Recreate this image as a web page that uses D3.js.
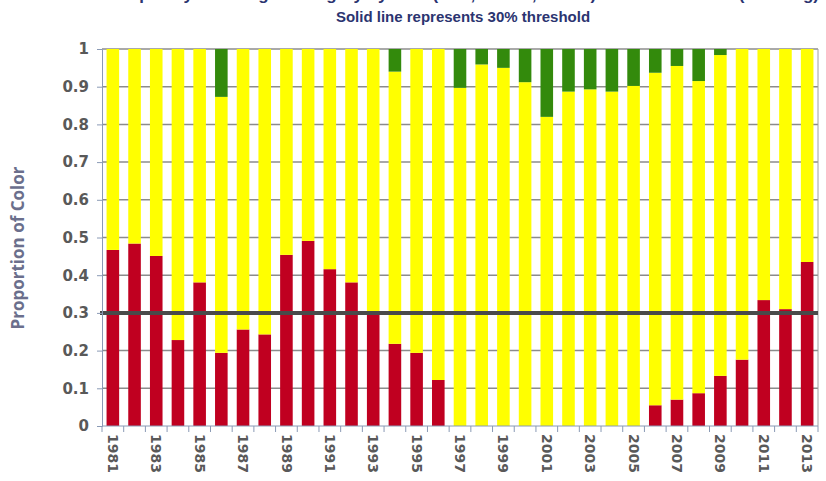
<!DOCTYPE html>
<html>
<head>
<meta charset="utf-8">
<script src="https://cdn.jsdelivr.net/npm/d3@7"></script>
<style>
  body { margin: 0; background: #fff; }
  svg { display: block; }
</style>
</head>
<body>
<svg id="chart" width="826" height="481"></svg>
<script>
// values
const years = [1981,1982,1983,1984,1985,1986,1987,1988,1989,1990,1991,1992,1993,1994,1995,1996,1997,
               1998,1999,2000,2001,2002,2003,2004,2005,2006,2007,2008,2009,2010,2011,2012,2013];
const red    = [0.467,0.484,0.451,0.228,0.381,0.194,0.256,0.243,0.454,0.491,0.416,0.381,0.303,0.218,0.194,0.122,0,
                0,0,0,0,0,0,0,0,0.055,0.070,0.087,0.133,0.176,0.334,0.310,0.435];
const yellow = [0.533,0.516,0.549,0.772,0.619,0.679,0.744,0.757,0.546,0.509,0.584,0.619,0.697,0.722,0.806,0.878,0.897,
                0.959,0.950,0.912,0.820,0.887,0.893,0.887,0.902,0.882,0.885,0.828,0.851,0.824,0.666,0.690,0.565];
const green  = [0,0,0,0,0,0.127,0,0,0,0,0,0,0,0.060,0,0,0.103,
                0.041,0.050,0.088,0.180,0.113,0.107,0.113,0.098,0.063,0.045,0.085,0.016,0,0,0,0];
const yTicks = [0,0.1,0.2,0.3,0.4,0.5,0.6,0.7,0.8,0.9,1];
const threshold = 0.3;

const colors = { red: "#c00020", yellow: "#ffff00", green: "#338a0c" };

const svg = d3.select("#chart");
const margin = { top: 49, right: 8, bottom: 55, left: 102 };
const width = 826 - margin.left - margin.right;
const height = 481 - margin.top - margin.bottom;

// titles (first line is cropped off the top in the original, only descenders show)
svg.append("text")
  .attr("x", 463).attr("y", 0)
  .attr("text-anchor", "middle")
  .attr("font-family", "Liberation Sans Narrow, Arial Narrow, sans-serif")
  .attr("font-weight", "bold").attr("font-size", 17)
  .attr("fill", "#2b3470")
  .text("Frequency of Drought Category by Year (Red, Yellow, Green) Summer Season (Jun-Aug)");

svg.append("text")
  .attr("x", 463).attr("y", 22)
  .attr("text-anchor", "middle")
  .attr("font-family", "Liberation Sans Narrow, Arial Narrow, sans-serif")
  .attr("font-weight", "bold").attr("font-size", 15)
  .attr("fill", "#2b3470")
  .text("Solid line represents 30% threshold");

const g = svg.append("g").attr("transform", `translate(${margin.left},${margin.top})`);

const x = d3.scaleBand()
  .domain(years)
  .range([0, width])
  .paddingInner(0.42)
  .paddingOuter(0.21);

const y = d3.scaleLinear().domain([0, 1]).range([height, 0]);

// gridlines
g.append("g")
  .selectAll("line")
  .data(yTicks.filter(d => d > 0))
  .join("line")
  .attr("x1", 0).attr("x2", width)
  .attr("y1", d => y(d)).attr("y2", d => y(d))
  .attr("stroke", "#8c8c8c").attr("stroke-width", 1.5);

// right border
g.append("line")
  .attr("x1", width).attr("x2", width)
  .attr("y1", 0).attr("y2", height)
  .attr("stroke", "#a0a0a0").attr("stroke-width", 1);

// stacked bars
const table = years.map((yr, i) => ({ year: yr, red: red[i], yellow: yellow[i], green: green[i] }));
const series = d3.stack().keys(["red", "yellow", "green"])(table);

g.append("g")
  .selectAll("g")
  .data(series)
  .join("g")
  .attr("fill", d => colors[d.key])
  .selectAll("rect")
  .data(d => d)
  .join("rect")
  .attr("x", d => x(d.data.year))
  .attr("width", x.bandwidth())
  .attr("y", d => y(d[1]))
  .attr("height", d => y(d[0]) - y(d[1]));

// threshold line
g.append("line")
  .attr("x1", -2).attr("x2", width)
  .attr("y1", y(threshold)).attr("y2", y(threshold))
  .attr("stroke", "#4a4a4a").attr("stroke-width", 4);

// y axis
const yAxis = g.append("g")
  .call(d3.axisLeft(y).tickValues(yTicks).tickFormat(d3.format("")).tickSizeOuter(0).tickSize(5).tickPadding(8));
yAxis.select(".domain").attr("stroke", "#8a9ab5");
yAxis.selectAll(".tick line").attr("stroke", "#8a9ab5");
yAxis.selectAll("text")
  .attr("font-family", "DejaVu Sans, Verdana, sans-serif")
  .attr("font-weight", "bold").attr("font-size", 15)
  .attr("fill", "#595959");

// x axis
const step = x.step();
const xg = g.append("g").attr("transform", `translate(0,${height})`);
xg.append("line")
  .attr("x1", 0).attr("x2", width)
  .attr("stroke", "#8a9ab5");
xg.selectAll(".xtick")
  .data(years.concat([null]))
  .join("line")
  .attr("class", "xtick")
  .attr("x1", (d, i) => i * step).attr("x2", (d, i) => i * step)
  .attr("y1", 0).attr("y2", 6)
  .attr("stroke", "#8a9ab5");
xg.selectAll(".xlabel")
  .data(years.filter(d => d % 2 === 1))
  .join("text")
  .attr("class", "xlabel")
  .attr("transform", d => `translate(${x(d) + x.bandwidth() / 2},8) rotate(90)`)
  .attr("dy", "0.35em")
  .attr("font-family", "DejaVu Sans, Verdana, sans-serif")
  .attr("font-weight", "bold").attr("font-size", 14)
  .attr("fill", "#595959")
  .text(d => d);

// y axis title
svg.append("text")
  .attr("transform", "translate(24,248) rotate(-90)")
  .attr("text-anchor", "middle")
  .attr("font-family", "Open Sans, sans-serif")
  .attr("font-weight", 700).attr("font-size", 17)
  .attr("fill", "#6b6f8c")
  .text("Proportion of Color");
</script>
</body>
</html>
